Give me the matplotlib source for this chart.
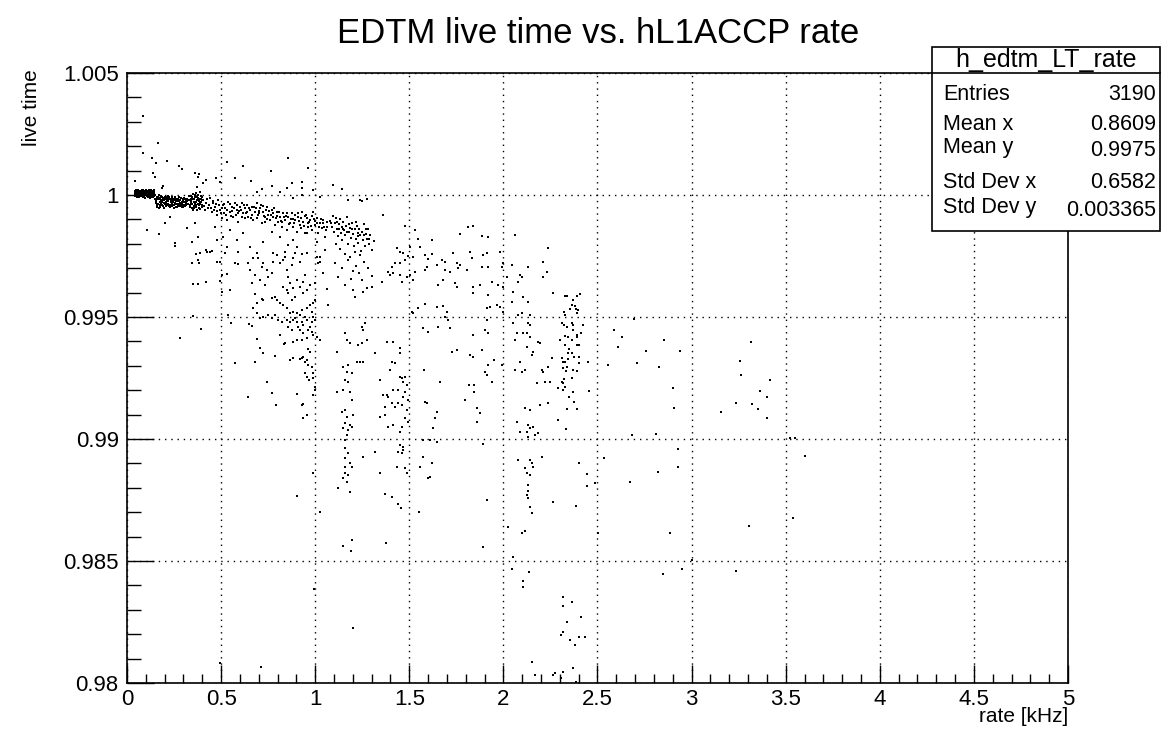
import numpy as np
import matplotlib.pyplot as plt
from matplotlib.ticker import MultipleLocator, FuncFormatter
from matplotlib.patches import Rectangle
from matplotlib.lines import Line2D

# font similar to ROOT's Helvetica
plt.rcParams['font.family'] = ['Liberation Sans', 'DejaVu Sans']

# --- data: (rate [kHz], live time) ---
# dense start of the band at low rate
core = [
    (0.040, 1.00015), (0.045, 1.00002), (0.050, 1.00020), (0.055, 0.99992), (0.060, 1.00010),
    (0.065, 1.00018), (0.070, 0.99998), (0.075, 1.00006), (0.080, 1.00021), (0.085, 0.99990),
    (0.090, 1.00012), (0.095, 1.00003), (0.100, 1.00017), (0.105, 0.99995), (0.110, 1.00008),
    (0.115, 1.00020), (0.120, 0.99988), (0.125, 1.00012), (0.130, 1.00001), (0.135, 1.00016),
    (0.140, 0.99993), (0.145, 1.00007), (0.150, 0.99985), (0.048, 1.00008), (0.062, 0.99996),
    (0.078, 1.00014), (0.092, 0.99993), (0.108, 1.00015), (0.122, 1.00005), (0.138, 1.00010),
    (0.058, 1.00022), (0.088, 1.00000), (0.118, 0.99997), (0.043, 0.99995), (0.068, 1.00004),
    (0.053, 1.00012), (0.072, 1.00017), (0.083, 1.00004), (0.098, 1.00010), (0.113, 0.99992),
    (0.128, 1.00019), (0.143, 1.00014), (0.103, 1.00022), (0.132, 0.99991), (0.148, 1.00002),
    (0.041, 1.00008), (0.046, 1.00018), (0.051, 0.99998), (0.056, 1.00005), (0.061, 1.00016),
    (0.066, 0.99990), (0.071, 1.00011), (0.076, 0.99995), (0.081, 1.00009), (0.086, 1.00019),
    (0.091, 1.00006), (0.096, 0.99989), (0.101, 1.00004), (0.106, 1.00012), (0.111, 1.00018),
    (0.116, 1.00003), (0.121, 1.00015), (0.126, 0.99993), (0.131, 1.00009), (0.136, 1.00002),
    (0.141, 1.00019), (0.146, 0.99996), (0.044, 1.00012), (0.057, 1.00001), (0.069, 1.00013),
    (0.079, 1.00000), (0.094, 1.00015), (0.109, 1.00001), (0.124, 1.00008), (0.139, 0.99999),
    (0.150, 0.99998), (0.155, 0.99975), (0.160, 0.99990), (0.165, 0.99962), (0.170, 0.99985),
    (0.175, 0.99970), (0.180, 0.99995), (0.185, 0.99958), (0.190, 0.99980), (0.195, 0.99968),
    (0.200, 0.99992), (0.205, 0.99955), (0.210, 0.99978), (0.215, 0.99988), (0.220, 0.99965),
    (0.225, 0.99982), (0.230, 0.99952), (0.235, 0.99972), (0.240, 0.99990), (0.245, 0.99960),
    (0.250, 0.99980), (0.255, 0.99968), (0.260, 0.99952), (0.265, 0.99985), (0.270, 0.99962),
    (0.275, 0.99975), (0.280, 0.99955), (0.285, 0.99988), (0.290, 0.99965), (0.295, 0.99978),
    (0.300, 0.99950), (0.305, 0.99970), (0.310, 0.99985), (0.315, 0.99958), (0.320, 0.99975),
    (0.158, 0.99952), (0.172, 0.99998), (0.188, 0.99972), (0.202, 0.99962), (0.218, 0.99995),
    (0.232, 0.99985), (0.248, 0.99948), (0.262, 0.99975), (0.278, 0.99992), (0.292, 0.99950),
    (0.308, 0.99960), (0.168, 0.99945), (0.198, 0.99945),
    (0.163, 0.99982), (0.178, 0.99960), (0.193, 0.99988), (0.208, 0.99970), (0.223, 0.99955),
    (0.238, 0.99965), (0.253, 0.99990), (0.268, 0.99950), (0.283, 0.99968), (0.298, 0.99985),
    (0.313, 0.99968), (0.182, 0.99978), (0.212, 0.99992), (0.242, 0.99975), (0.272, 0.99982),
    (0.152, 0.99968), (0.157, 0.99985), (0.162, 0.99958), (0.167, 0.99992), (0.173, 0.99950),
    (0.177, 0.99988), (0.183, 0.99965), (0.187, 0.99990), (0.192, 0.99955), (0.197, 0.99978),
    (0.203, 0.99985), (0.207, 0.99965), (0.213, 0.99960), (0.217, 0.99975), (0.222, 0.99990),
    (0.227, 0.99960), (0.233, 0.99978), (0.237, 0.99955), (0.243, 0.99982), (0.247, 0.99970),
    (0.252, 0.99958), (0.257, 0.99985), (0.263, 0.99962), (0.267, 0.99975), (0.273, 0.99955),
    (0.277, 0.99965), (0.282, 0.99980), (0.287, 0.99958), (0.293, 0.99972), (0.297, 0.99960),
    (0.303, 0.99988), (0.307, 0.99955), (0.312, 0.99975), (0.317, 0.99985), (0.322, 0.99962),
    (0.330, 0.99995), (0.335, 0.99960), (0.340, 0.99985), (0.345, 0.99945), (0.350, 1.00005),
    (0.355, 0.99970), (0.360, 0.99990), (0.365, 0.99950), (0.370, 0.99978), (0.375, 1.00000),
    (0.380, 0.99958), (0.385, 0.99985), (0.390, 0.99942), (0.395, 0.99970), (0.400, 0.99992),
    (0.338, 0.99975), (0.352, 0.99938), (0.368, 1.00008), (0.382, 0.99975), (0.398, 0.99950),
    (0.345, 0.99990), (0.372, 0.99940), (0.392, 0.99995), (0.358, 0.99982), (0.362, 0.99962),
    (0.342, 0.99968), (0.356, 0.99955), (0.378, 0.99988), (0.388, 0.99962), (0.366, 0.99972),
    (0.332, 0.99980), (0.336, 0.99950), (0.341, 0.99995), (0.347, 0.99962), (0.351, 0.99985),
    (0.357, 0.99945), (0.363, 0.99998), (0.367, 0.99960), (0.371, 0.99990), (0.376, 0.99965),
    (0.381, 0.99945), (0.386, 0.99970), (0.391, 0.99982), (0.396, 0.99958), (0.399, 0.99978),
]

# points above the band
above = [
    (0.087, 1.00324), (0.166, 1.00212), (0.087, 1.00174), (0.134, 1.00153), (0.154, 1.00133),
    (0.211, 1.00141), (0.140, 1.00092), (0.150, 1.00073), (0.276, 1.00119), (0.290, 1.00105),
    (0.361, 1.00089), (0.382, 1.00086), (0.375, 1.00073), (0.533, 1.00134), (0.618, 1.00120),
    (0.473, 1.00068), (0.574, 1.00068), (0.854, 1.00150), (0.763, 1.00097), (0.963, 1.00109),
    (0.659, 1.00056), (0.769, 1.00037), (0.848, 1.00030), (0.878, 1.00049), (0.928, 1.00052),
    (0.932, 1.00027), (0.190, 1.00038), (0.184, 1.00027), (0.042, 1.00059), (0.420, 1.00062),
    (0.406, 1.00048), (0.494, 1.00055), (0.689, 1.00014), (0.715, 1.00023), (0.813, 1.00014),
    (0.990, 1.00021), (1.025, 0.99993), (0.928, 1.00000), (0.884, 0.99987), (0.370, 1.00034),
    (0.388, 1.00014), (1.096, 1.00041), (1.144, 1.00025), (1.176, 0.99980), (1.238, 0.99980),
    (1.247, 0.99977), (1.277, 0.99984), (1.362, 0.99918),
]

# main descending band
band = [
    (0.406, 0.99980), (0.420, 0.99966), (0.432, 0.99945), (0.441, 0.99986), (0.450, 0.99932),
    (0.459, 0.99966), (0.468, 0.99952), (0.476, 0.99918), (0.485, 0.99980), (0.494, 0.99939),
    (0.503, 0.99904), (0.512, 0.99959), (0.521, 0.99945), (0.530, 0.99898), (0.538, 0.99973),
    (0.547, 0.99932), (0.556, 0.99952), (0.565, 0.99911), (0.574, 0.99966), (0.583, 0.99939),
    (0.592, 0.99891), (0.600, 0.99952), (0.609, 0.99966), (0.618, 0.99925), (0.627, 0.99945),
    (0.636, 0.99959), (0.645, 0.99911), (0.653, 0.99939), (0.662, 0.99952), (0.671, 0.99898),
    (0.680, 0.99932), (0.689, 0.99966), (0.698, 0.99918), (0.707, 0.99945), (0.715, 0.99884),
    (0.724, 0.99932), (0.733, 0.99911), (0.742, 0.99952), (0.751, 0.99918), (0.760, 0.99898),
    (0.769, 0.99939), (0.778, 0.99911), (0.786, 0.99877), (0.795, 0.99932), (0.804, 0.99891),
    (0.813, 0.99911), (0.822, 0.99870), (0.831, 0.99925), (0.839, 0.99898), (0.848, 0.99857),
    (0.857, 0.99911), (0.866, 0.99884), (0.875, 0.99925), (0.884, 0.99870), (0.893, 0.99898),
    (0.902, 0.99850), (0.910, 0.99911), (0.919, 0.99877), (0.928, 0.99932), (0.937, 0.99891),
    (0.946, 0.99843), (0.955, 0.99904), (0.963, 0.99870), (0.972, 0.99898), (0.981, 0.99857),
    (0.990, 0.99932), (0.999, 0.99877), (1.008, 0.99904), (1.017, 0.99843), (1.025, 0.99884),
    (1.034, 0.99863), (1.043, 0.99898), (1.052, 0.99829), (1.061, 0.99870),
    (0.415, 0.99940), (0.455, 0.99975), (0.490, 0.99960), (0.515, 0.99925), (0.545, 0.99962),
    (0.560, 0.99935), (0.590, 0.99925), (0.605, 0.99940), (0.625, 0.99905), (0.640, 0.99930),
    (0.665, 0.99920), (0.685, 0.99945), (0.700, 0.99935), (0.720, 0.99955), (0.735, 0.99890),
    (0.755, 0.99935), (0.775, 0.99925), (0.790, 0.99905), (0.810, 0.99930), (0.825, 0.99890),
    (0.845, 0.99915), (0.860, 0.99880), (0.880, 0.99900), (0.895, 0.99920), (0.915, 0.99895),
    (0.925, 0.99865), (0.945, 0.99915), (0.960, 0.99885), (0.985, 0.99915), (1.000, 0.99895),
    (1.020, 0.99870), (1.040, 0.99885), (1.055, 0.99855),
    (0.410, 0.99955), (0.425, 0.99985), (0.437, 0.99960), (0.446, 0.99948), (0.463, 0.99940),
    (0.472, 0.99962), (0.480, 0.99935), (0.498, 0.99925), (0.507, 0.99945), (0.518, 0.99965),
    (0.526, 0.99920), (0.534, 0.99940), (0.551, 0.99915), (0.568, 0.99945), (0.578, 0.99920),
    (0.587, 0.99960), (0.596, 0.99935), (0.613, 0.99910), (0.622, 0.99958), (0.632, 0.99925),
    (0.649, 0.99945), (0.657, 0.99905), (0.675, 0.99950), (0.693, 0.99905), (0.703, 0.99925),
    (0.711, 0.99960), (0.728, 0.99915), (0.738, 0.99940), (0.746, 0.99900), (0.764, 0.99920),
    (0.782, 0.99945), (0.799, 0.99915), (0.817, 0.99895), (0.835, 0.99910), (0.852, 0.99925),
    (0.870, 0.99900), (0.888, 0.99885), (0.906, 0.99925), (0.922, 0.99905), (0.941, 0.99875),
    (0.951, 0.99920), (0.968, 0.99890), (0.977, 0.99875), (0.994, 0.99900), (1.012, 0.99885),
    (1.030, 0.99900), (1.048, 0.99870), (1.065, 0.99890),
    (1.080, 0.99895), (1.088, 0.99870), (1.095, 0.99915), (1.100, 0.99850), (1.105, 0.99885),
    (1.110, 0.99905), (1.115, 0.99860), (1.120, 0.99830), (1.125, 0.99880), (1.130, 0.99900),
    (1.135, 0.99845), (1.140, 0.99870), (1.145, 0.99815), (1.150, 0.99890), (1.155, 0.99855),
    (1.160, 0.99835), (1.165, 0.99875), (1.170, 0.99910), (1.175, 0.99800), (1.180, 0.99850),
    (1.185, 0.99865), (1.190, 0.99825), (1.195, 0.99885), (1.200, 0.99840), (1.205, 0.99790),
    (1.210, 0.99860), (1.215, 0.99820), (1.220, 0.99875), (1.225, 0.99845), (1.230, 0.99805),
    (1.235, 0.99860), (1.240, 0.99835), (1.245, 0.99770), (1.250, 0.99850), (1.255, 0.99815),
    (1.260, 0.99880), (1.265, 0.99790), (1.270, 0.99840), (1.275, 0.99820), (1.280, 0.99860),
    (1.285, 0.99800), (1.290, 0.99835), (1.300, 0.99775), (1.310, 0.99810), (1.132, 0.99780),
    (1.158, 0.99760), (1.185, 0.99745), (1.112, 0.99800), (1.210, 0.99765), (1.240, 0.99755),
    (1.085, 0.99885), (1.118, 0.99890), (1.148, 0.99860), (1.178, 0.99880), (1.198, 0.99860),
    (1.228, 0.99830), (1.258, 0.99835), (1.288, 0.99820), (1.268, 0.99860), (1.218, 0.99890),
    (1.168, 0.99850), (1.128, 0.99860),
]

# spread below the band, x < 1.1
spread_low = [
    (0.104, 0.99857), (0.172, 0.99840), (0.202, 0.99884), (0.228, 0.99911), (0.255, 0.99805),
    (0.255, 0.99791), (0.344, 0.99809), (0.361, 0.99884), (0.317, 0.99863), (0.388, 0.99761),
    (0.420, 0.99775), (0.441, 0.99768), (0.379, 0.99829), (0.476, 0.99816), (0.512, 0.99829),
    (0.530, 0.99788), (0.583, 0.99816), (0.653, 0.99788), (0.689, 0.99761), (0.724, 0.99809),
    (0.778, 0.99761), (0.839, 0.99747), (0.857, 0.99795), (0.902, 0.99788), (0.955, 0.99761),
    (1.025, 0.99747), (1.052, 0.99775), (0.468, 0.99870), (0.547, 0.99857), (0.618, 0.99843),
    (0.769, 0.99850), (0.813, 0.99829), (0.884, 0.99816), (0.955, 0.99843), (1.008, 0.99809),
    (0.282, 0.99413), (0.393, 0.99452), (0.349, 0.99504), (0.344, 0.99720), (0.375, 0.99734),
    (0.382, 0.99723), (0.367, 0.99758), (0.352, 0.99635), (0.379, 0.99635), (0.420, 0.99645),
    (0.423, 0.99768), (0.450, 0.99772), (0.476, 0.99724), (0.494, 0.99724), (0.521, 0.99761),
    (0.530, 0.99676), (0.503, 0.99672), (0.494, 0.99648), (0.547, 0.99611), (0.503, 0.99604),
    (0.592, 0.99768), (0.574, 0.99720), (0.592, 0.99717), (0.645, 0.99720), (0.653, 0.99693),
    (0.671, 0.99740), (0.698, 0.99740), (0.680, 0.99672), (0.662, 0.99638), (0.707, 0.99652),
    (0.715, 0.99706), (0.724, 0.99720), (0.742, 0.99693), (0.751, 0.99665), (0.733, 0.99631),
    (0.769, 0.99679), (0.778, 0.99727), (0.795, 0.99754), (0.813, 0.99720), (0.831, 0.99734),
    (0.839, 0.99768), (0.848, 0.99693), (0.857, 0.99665), (0.875, 0.99713), (0.884, 0.99740),
    (0.893, 0.99761), (0.919, 0.99727), (0.928, 0.99758), (0.946, 0.99672), (0.902, 0.99652),
    (0.866, 0.99638), (0.831, 0.99624), (0.848, 0.99611), (0.857, 0.99597), (0.875, 0.99570),
    (0.893, 0.99583), (0.884, 0.99618), (0.919, 0.99624), (0.937, 0.99645), (0.795, 0.99570),
    (0.813, 0.99556), (0.831, 0.99549), (0.786, 0.99583), (0.769, 0.99577), (0.724, 0.99570),
    (0.715, 0.99572), (0.680, 0.99593), (0.668, 0.99536), (0.689, 0.99556), (0.848, 0.99536),
    (0.866, 0.99515), (0.884, 0.99522), (0.902, 0.99515), (0.919, 0.99508), (0.928, 0.99529),
    (0.946, 0.99502), (0.955, 0.99536), (0.972, 0.99549), (0.990, 0.99556), (0.981, 0.99522),
    (0.999, 0.99570), (1.008, 0.99747), (1.017, 0.99720), (1.025, 0.99727), (1.043, 0.99679),
    (1.061, 0.99613), (1.070, 0.99549), (0.999, 0.99638), (0.972, 0.99631), (0.955, 0.99611),
    (0.933, 0.99597), (0.884, 0.99488), (0.893, 0.99495), (0.866, 0.99481), (0.857, 0.99460),
    (0.875, 0.99447), (0.902, 0.99481), (0.910, 0.99460), (0.928, 0.99481), (0.937, 0.99467),
    (0.955, 0.99488), (0.963, 0.99447), (0.981, 0.99481), (0.990, 0.99502), (0.999, 0.99488),
    (0.972, 0.99460), (0.919, 0.99447), (0.937, 0.99433), (0.981, 0.99440), (0.990, 0.99426),
    (1.008, 0.99419), (1.025, 0.99406), (0.955, 0.99413), (0.928, 0.99406), (0.902, 0.99406),
    (0.884, 0.99399), (0.839, 0.99392), (0.813, 0.99426), (0.650, 0.99471), (0.662, 0.99463),
    (0.689, 0.99515), (0.724, 0.99502), (0.751, 0.99508), (0.769, 0.99495), (0.786, 0.99508),
    (0.804, 0.99488), (0.822, 0.99481), (0.848, 0.99488), (0.707, 0.99495), (0.538, 0.99508),
    (0.552, 0.99474),
    (0.919, 0.99327), (0.928, 0.99333), (0.955, 0.99324), (0.963, 0.99368), (0.972, 0.99358),
    (0.963, 0.99303), (0.981, 0.99297), (0.946, 0.99269), (0.986, 0.99269), (0.990, 0.99249),
    (0.955, 0.99256), (0.969, 0.99242), (0.999, 0.99215), (0.937, 0.99337), (0.946, 0.99317),
    (0.902, 0.99185), (0.928, 0.99139), (0.937, 0.99142), (0.955, 0.99098), (0.933, 0.99085),
    (0.990, 0.99179), (0.999, 0.99201), (0.680, 0.99317), (0.707, 0.99372), (0.724, 0.99351),
    (0.786, 0.99340), (0.692, 0.99410), (0.834, 0.99389), (0.866, 0.99324), (0.884, 0.99331),
    (0.572, 0.99310), (0.645, 0.99171), (0.742, 0.99235), (0.769, 0.99190), (0.792, 0.99139),
    (0.987, 0.98862), (0.905, 0.98766), (1.026, 0.98700), (0.995, 0.98384), (0.494, 0.98083),
    (0.710, 0.98067),
]

# spread between 1.1 and 2.3 kHz, upper part
spread_mid = [
    (1.105, 0.99720), (1.140, 0.99700), (1.175, 0.99735), (1.200, 0.99690), (1.215, 0.99710),
    (1.235, 0.99680), (1.260, 0.99725), (1.280, 0.99700), (1.300, 0.99670), (1.120, 0.99665),
    (1.190, 0.99655), (1.250, 0.99650),
    (1.477, 0.99874), (1.530, 0.99857), (1.619, 0.99816), (1.548, 0.99818), (1.504, 0.99788),
    (1.557, 0.99788), (1.433, 0.99781), (1.450, 0.99768), (1.468, 0.99761), (1.495, 0.99750),
    (1.521, 0.99747), (1.477, 0.99734), (1.450, 0.99720), (1.424, 0.99720), (1.406, 0.99706),
    (1.415, 0.99679), (1.450, 0.99672), (1.504, 0.99672), (1.521, 0.99652), (1.601, 0.99736),
    (1.619, 0.99757), (1.583, 0.99754), (1.530, 0.99686), (1.486, 0.99665), (1.389, 0.99686),
    (1.397, 0.99672), (1.353, 0.99645), (1.459, 0.99645), (1.300, 0.99624), (1.256, 0.99604),
    (1.203, 0.99611), (1.158, 0.99631), (1.211, 0.99583), (1.273, 0.99617), (1.592, 0.99706),
    (1.583, 0.99693), (1.645, 0.99713), (1.690, 0.99727), (1.672, 0.99734), (1.690, 0.99693),
    (1.681, 0.99652), (1.654, 0.99631), (1.734, 0.99761), (1.752, 0.99720), (1.769, 0.99713),
    (1.760, 0.99699), (1.716, 0.99686), (1.743, 0.99638), (1.752, 0.99624), (1.805, 0.99693),
    (1.831, 0.99740), (1.840, 0.99624), (1.814, 0.99870), (1.840, 0.99873), (1.769, 0.99840),
    (1.884, 0.99832), (1.920, 0.99827), (1.822, 0.99768), (1.893, 0.99754), (1.911, 0.99761),
    (1.884, 0.99706), (1.920, 0.99706), (1.937, 0.99645), (1.920, 0.99590), (1.982, 0.99768),
    (2.000, 0.99720), (1.991, 0.99706), (2.017, 0.99665), (2.044, 0.99713), (2.062, 0.99836),
    (2.088, 0.99672), (2.097, 0.99665), (2.079, 0.99645), (2.132, 0.99706), (2.212, 0.99727),
    (2.239, 0.99781), (2.230, 0.99686), (2.212, 0.99665), (2.053, 0.99604), (2.106, 0.99583),
    (2.265, 0.99597), (1.973, 0.99631), (2.000, 0.99624), (1.876, 0.99631), (1.840, 0.99597),
]

# vertical streaks and scatter below 0.996
spread_streaks = [
    (1.149, 0.99297), (1.176, 0.99303), (1.167, 0.99276), (1.194, 0.99269), (1.158, 0.99242),
    (1.176, 0.99235), (1.149, 0.99201), (1.114, 0.99194), (1.185, 0.99194), (1.194, 0.99160),
    (1.158, 0.99119), (1.140, 0.99112), (1.203, 0.99098), (1.167, 0.99092), (1.158, 0.99064),
    (1.185, 0.99057), (1.149, 0.99044), (1.176, 0.99037), (1.194, 0.99051), (1.167, 0.99016),
    (1.158, 0.98996), (1.158, 0.98962), (1.176, 0.98941), (1.158, 0.98921), (1.185, 0.98900),
    (1.194, 0.98887), (1.158, 0.98859), (1.176, 0.98852), (1.149, 0.98839), (1.167, 0.98825),
    (1.123, 0.98798), (1.158, 0.98887), (1.114, 0.99358), (1.256, 0.99317), (1.220, 0.99317),
    (1.238, 0.99317), (1.229, 0.99385), (1.247, 0.99392), (1.273, 0.99406), (1.265, 0.99474),
    (1.256, 0.99447), (1.247, 0.99460), (1.158, 0.99433), (1.167, 0.99406), (1.185, 0.99392),
    (1.318, 0.99351),
    (1.344, 0.99242), (1.362, 0.99180), (1.380, 0.99180), (1.389, 0.99174), (1.371, 0.99133),
    (1.344, 0.99092), (1.406, 0.99146), (1.424, 0.99133), (1.415, 0.99201), (1.442, 0.99201),
    (1.450, 0.99256), (1.459, 0.99249), (1.477, 0.99256), (1.468, 0.99235), (1.486, 0.99221),
    (1.477, 0.99194), (1.468, 0.99174), (1.442, 0.99146), (1.459, 0.99139), (1.486, 0.99119),
    (1.495, 0.99160), (1.477, 0.99085), (1.495, 0.99071), (1.459, 0.99051), (1.450, 0.99030),
    (1.415, 0.99057), (1.389, 0.99051), (1.371, 0.99098), (1.406, 0.99317), (1.424, 0.99310),
    (1.397, 0.99283), (1.450, 0.99372), (1.450, 0.99351), (1.415, 0.99399), (1.380, 0.99399),
    (1.450, 0.98975), (1.468, 0.98955), (1.459, 0.98941), (1.468, 0.98969), (1.442, 0.98948),
    (1.433, 0.98887), (1.486, 0.98859), (1.477, 0.98880), (1.318, 0.98948), (1.344, 0.98859),
    (1.256, 0.98928),
    (1.583, 0.99153), (1.592, 0.99146), (1.645, 0.99112), (1.636, 0.99085), (1.628, 0.99044),
    (1.580, 0.99283), (1.663, 0.99235), (1.548, 0.99536), (1.512, 0.99522), (1.521, 0.99515),
    (1.583, 0.99553), (1.645, 0.99542), (1.681, 0.99545), (1.698, 0.99522), (1.690, 0.99501),
    (1.707, 0.99488), (1.716, 0.99454), (1.654, 0.99460), (1.601, 0.99440), (1.574, 0.99454),
    (1.725, 0.99358), (1.752, 0.99365), (1.822, 0.99344), (1.840, 0.99337), (1.840, 0.99426),
    (1.884, 0.99365), (1.911, 0.99536), (1.929, 0.99542), (1.920, 0.99433), (1.902, 0.99447),
    (1.911, 0.99488), (1.952, 0.99324), (1.920, 0.99303), (1.902, 0.99276), (1.911, 0.99262),
    (1.937, 0.99235), (1.991, 0.99303), (1.819, 0.99221), (1.844, 0.99221), (1.845, 0.99194),
    (1.796, 0.99160), (1.858, 0.99126), (1.876, 0.99105), (1.858, 0.99071), (1.890, 0.98980),
    (1.610, 0.98996), (1.574, 0.98996), (1.645, 0.98989), (1.557, 0.98887), (1.619, 0.98900),
    (1.601, 0.98839), (1.610, 0.98846), (1.574, 0.98928), (1.964, 0.99549), (1.982, 0.99542),
    (2.000, 0.99522),
    (2.044, 0.99563), (2.132, 0.99563), (2.053, 0.99474), (2.079, 0.99508), (2.097, 0.99515),
    (2.141, 0.99508), (2.132, 0.99474), (2.141, 0.99467), (2.070, 0.99433), (2.123, 0.99433),
    (2.106, 0.99433), (2.062, 0.99406), (2.141, 0.99419), (2.185, 0.99399), (2.194, 0.99392),
    (2.159, 0.99358), (2.123, 0.99378), (2.150, 0.99344), (2.088, 0.99317), (2.115, 0.99283),
    (2.062, 0.99283), (2.097, 0.99276), (2.203, 0.99283), (2.212, 0.99276), (2.177, 0.99228),
    (2.221, 0.99235), (2.247, 0.99235), (2.239, 0.99297), (2.256, 0.99331), (2.292, 0.99208),
    (2.115, 0.99126), (2.141, 0.99119), (2.159, 0.99051), (2.132, 0.99057), (2.141, 0.99044),
    (2.123, 0.99030), (2.132, 0.99010), (2.168, 0.99016), (2.185, 0.99023), (2.070, 0.99071),
    (2.088, 0.99030), (2.194, 0.99139), (2.239, 0.99146), (2.292, 0.99078),
    (2.141, 0.98914), (2.150, 0.98900), (2.159, 0.98887), (2.115, 0.98880), (2.123, 0.98859),
    (2.141, 0.98852), (2.132, 0.98812), (2.079, 0.98914), (2.203, 0.98928),
]

# right-hand part, x > 2.3
spread_high = [
    (2.327, 0.99587), (2.340, 0.99587), (2.389, 0.99587), (2.407, 0.99594), (2.368, 0.99570),
    (2.363, 0.99549), (2.380, 0.99545), (2.354, 0.99531), (2.386, 0.99531), (2.322, 0.99519),
    (2.327, 0.99508), (2.398, 0.99529), (2.389, 0.99515), (2.309, 0.99474), (2.322, 0.99467),
    (2.336, 0.99460), (2.363, 0.99474), (2.372, 0.99467), (2.425, 0.99467), (2.694, 0.99490),
    (2.301, 0.99406), (2.327, 0.99422), (2.345, 0.99417), (2.368, 0.99447), (2.389, 0.99426),
    (2.389, 0.99417), (2.411, 0.99436), (2.363, 0.99406), (2.327, 0.99385), (2.393, 0.99385),
    (2.403, 0.99385), (2.350, 0.99367), (2.363, 0.99354), (2.345, 0.99351), (2.310, 0.99331),
    (2.315, 0.99317), (2.327, 0.99317), (2.345, 0.99327), (2.375, 0.99335), (2.403, 0.99335),
    (2.403, 0.99310), (2.451, 0.99316), (2.336, 0.99297), (2.318, 0.99290), (2.333, 0.99280),
    (2.368, 0.99283), (2.389, 0.99277), (2.310, 0.99235), (2.322, 0.99245), (2.315, 0.99228),
    (2.327, 0.99214), (2.315, 0.99201), (2.364, 0.99249), (2.372, 0.99194), (2.350, 0.99173),
    (2.375, 0.99153), (2.457, 0.99197), (2.336, 0.99123), (2.389, 0.99123), (2.333, 0.99040),
    (2.588, 0.99447), (2.628, 0.99417), (2.611, 0.99376), (2.557, 0.99305), (2.712, 0.99313),
    (2.758, 0.99361), (2.825, 0.99294), (2.853, 0.99406), (2.938, 0.99361), (2.903, 0.99210),
    (2.908, 0.99128), (2.683, 0.99015), (2.813, 0.99019), (3.315, 0.99396), (3.257, 0.99320),
    (3.262, 0.99261), (3.416, 0.99241), (3.363, 0.99198), (3.402, 0.99172), (3.234, 0.99149),
    (3.323, 0.99143), (3.354, 0.99122), (3.158, 0.99112), (3.402, 0.99085), (3.549, 0.99005),
    (3.523, 0.99003), (3.602, 0.98930), (2.534, 0.98922), (2.403, 0.98900), (2.442, 0.98855),
    (2.442, 0.98809), (2.487, 0.98821), (2.823, 0.98866), (2.929, 0.98959), (2.929, 0.98887),
    (2.673, 0.98822),
]

# tail below 0.988
tail = [
    (1.185, 0.98784), (1.371, 0.98775), (1.406, 0.98764), (1.442, 0.98734), (1.456, 0.98719),
    (1.553, 0.98702), (1.149, 0.98563), (1.194, 0.98586), (1.190, 0.98541), (1.376, 0.98572),
    (1.199, 0.98227), (1.915, 0.98750), (1.893, 0.98559), (2.123, 0.98771), (2.132, 0.98757),
    (2.129, 0.98787), (2.141, 0.98723), (2.150, 0.98698), (2.026, 0.98641), (2.115, 0.98624),
    (2.097, 0.98613), (2.053, 0.98518), (2.044, 0.98466), (2.136, 0.98456), (2.106, 0.98419),
    (2.106, 0.98395), (2.262, 0.98743), (2.150, 0.98088), (2.168, 0.98033), (2.262, 0.98033),
    (2.274, 0.98040),
    (2.386, 0.98727), (2.501, 0.98613), (2.885, 0.98613), (3.305, 0.98645), (3.540, 0.98675),
    (3.000, 0.98504), (2.947, 0.98467), (2.850, 0.98447), (3.234, 0.98459), (2.318, 0.98352),
    (2.318, 0.98316), (2.366, 0.98333), (2.340, 0.98250), (2.412, 0.98272), (2.318, 0.98209),
    (2.306, 0.98198), (2.354, 0.98175), (2.380, 0.98156), (2.403, 0.98187), (2.433, 0.98190),
    (2.368, 0.98062), (2.318, 0.98045), (2.306, 0.98019), (2.386, 0.98002),
]

stats_labels = ['Entries', 'Mean x', 'Mean y', 'Std Dev x', 'Std Dev y']
stats_values = ['3190', '0.8609', '0.9975', '0.6582', '0.003365']

pts = np.array(core + above + band + spread_low + spread_mid + spread_streaks + spread_high + tail)

fig = plt.figure(figsize=(11.63, 7.39), dpi=100)
ax = fig.add_axes([0.1092, 0.0758, 0.8091, 0.8254])

ax.plot(pts[:, 0], pts[:, 1], 's', ms=2.0, mew=0, color='black', zorder=3)

ax.set_xlim(0, 5)
ax.set_ylim(0.98, 1.005)

ax.xaxis.set_major_locator(MultipleLocator(0.5))
ax.xaxis.set_minor_locator(MultipleLocator(0.1))
ax.yaxis.set_major_locator(MultipleLocator(0.005))
ax.yaxis.set_minor_locator(MultipleLocator(0.001))
fmt = FuncFormatter(lambda v, p: '%g' % round(v, 4))
ax.xaxis.set_major_formatter(fmt)
ax.yaxis.set_major_formatter(fmt)

ax.tick_params(axis='both', which='both', direction='in', width=1.0, labelsize=16)
ax.tick_params(axis='x', which='major', length=13, pad=4)
ax.tick_params(axis='x', which='minor', length=6.5)
ax.tick_params(axis='y', which='major', length=19.5, pad=6)
ax.tick_params(axis='y', which='minor', length=10)

ax.grid(True, which='major', color='black', lw=1.0, linestyle=(0, (1, 3.5)))
for s in ax.spines.values():
    s.set_linewidth(1.2)

fig.text(0.514, 0.955, 'EDTM live time vs. hL1ACCP rate', ha='center', va='center', fontsize=25)
fig.text(0.027, 0.906, 'live time', rotation=90, ha='center', va='top', fontsize=15)
fig.text(0.9183, 0.030, 'rate [kHz]', ha='right', va='center', fontsize=15)

# stats box in figure coordinates
W, H = 1163.0, 739.0
bx0, bx1, by0, by1 = 932 / W, 1160 / W, 1 - 231 / H, 1 - 47 / H
fig.patches.append(Rectangle((bx0, by0), bx1 - bx0, by1 - by0, transform=fig.transFigure,
                             facecolor='white', edgecolor='black', lw=1.2, zorder=5))
fig.lines.append(Line2D([bx0, bx1], [1 - 73 / H, 1 - 73 / H], transform=fig.transFigure,
                        color='black', lw=1.2, zorder=6))
fig.text((bx0 + bx1) / 2, 1 - 60 / H, 'h_edtm_LT_rate', ha='center', va='center',
         fontsize=18, zorder=7)
label_y = [94, 124, 148, 183, 208]
value_y = [94, 124, 150, 183, 210]
for lab, val, ly, vy in zip(stats_labels, stats_values, label_y, value_y):
    fig.text(943 / W, 1 - ly / H, lab, ha='left', va='center', fontsize=15.5, zorder=7)
    fig.text(1156 / W, 1 - vy / H, val, ha='right', va='center', fontsize=15.5, zorder=7)

fig.savefig('out.png', dpi=100)
